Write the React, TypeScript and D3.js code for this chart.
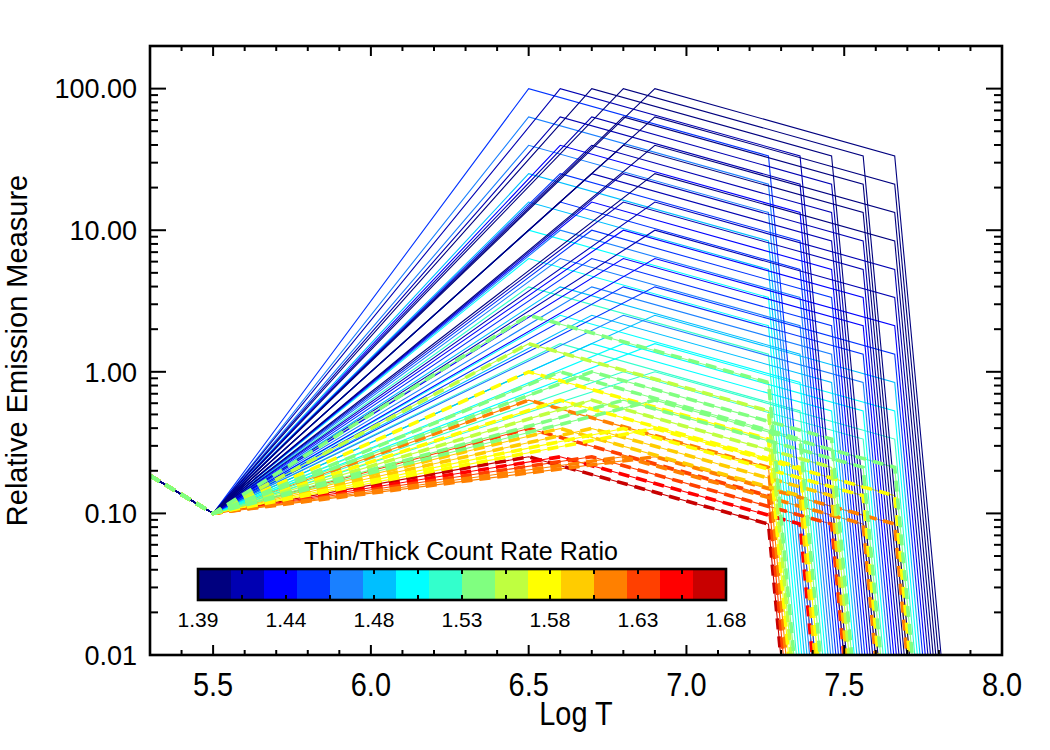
import * as d3 from "d3";

// DEM model grid: peak temperature (columns) x peak emission measure (rows)
const peakT = [6.5, 6.6, 6.7, 6.8, 6.9];
const breakT = [7.26, 7.36, 7.46, 7.56, 7.66];
const peakEM = [100, 63.1, 39.8, 25.1, 15.8, 10, 6.31, 3.98, 2.51, 1.58, 1.0, 0.631, 0.398, 0.251];
const coolT = [5.3, 5.5];
const coolEM = [0.185, 0.1];
const declineDex = 0.475; // fall from peak to break, in dex
const dropSlope = 24; // dex per unit log T above the break
const floorEM = 0.001;

// thin/thick ratio, one array per peak temperature
const ratio65 = [1.455, 1.468, 1.478, 1.488, 1.497, 1.505, 1.515, 1.525, 1.545, 1.565, 1.585, 1.61, 1.64, 1.675];
const ratio66 = [1.415, 1.425, 1.435, 1.445, 1.455, 1.465, 1.475, 1.49, 1.505, 1.53, 1.55, 1.575, 1.6, 1.645];
const ratio67 = [1.405, 1.41, 1.415, 1.425, 1.435, 1.445, 1.455, 1.47, 1.49, 1.51, 1.54, 1.56, 1.59, 1.63];
const ratio68 = [1.398, 1.4, 1.405, 1.41, 1.42, 1.43, 1.44, 1.46, 1.48, 1.5, 1.525, 1.55, 1.585, 1.62];
const ratio69 = [1.392, 1.395, 1.4, 1.405, 1.412, 1.42, 1.43, 1.45, 1.488, 1.505, 1.52, 1.545, 1.58, 1.615];
const ratioGrid = [ratio65, ratio66, ratio67, ratio68, ratio69];
const dashedFrom = 1.535;

const barColors = [
  "#00007f", "#0000b2", "#0000ff", "#0033ff", "#1a80ff", "#00bfff", "#00ffff", "#33ffcc",
  "#80ff80", "#bfff40", "#ffff00", "#ffcc00", "#ff8000", "#ff4000", "#ff0000", "#c80000",
];
const barLabels = ["1.39", "1.44", "1.48", "1.53", "1.58", "1.63", "1.68"];
const ratioDomain: [number, number] = [1.39, 1.68];

const xMajor = [5.5, 6.0, 6.5, 7.0, 7.5, 8.0];
const yMajor = [0.01, 0.1, 1, 10, 100];

const W = 1050, H = 750;
const L = 150, R = 1002, T = 46, B = 655;
const font = "'Liberation Sans', Arial, Helvetica, sans-serif";

export default function App() {
  const x = d3.scaleLinear().domain([5.3, 8.0]).range([L, R]);
  const y = d3.scaleLog().domain([0.01, 200]).range([B, T]);
  const color = d3.scaleQuantize<string>().domain(ratioDomain).range(barColors);
  const line = d3
    .line<[number, number]>()
    .x((d) => x(d[0]))
    .y((d) => y(d[1]));

  const models: { pts: [number, number][]; ratio: number }[] = [];
  peakT.forEach((tp, j) => {
    peakEM.forEach((em, i) => {
      const emB = em * Math.pow(10, -declineDex);
      const tEnd = breakT[j] + (Math.log10(emB) - Math.log10(floorEM)) / dropSlope;
      models.push({
        pts: [
          [coolT[0], coolEM[0]],
          [coolT[1], coolEM[1]],
          [tp, em],
          [breakT[j], emB],
          [tEnd, floorEM],
        ],
        ratio: ratioGrid[j][i],
      });
    });
  });
  const solid = [...models].sort((a, b) => b.ratio - a.ratio);
  const dashed = solid.filter((m) => m.ratio >= dashedFrom);

  const xMinor = d3.range(53, 81).map((v) => v / 10).filter((v) => !xMajor.some((m) => Math.abs(m - v) < 1e-6));
  const yMinor: number[] = [];
  yMajor.forEach((d) => {
    for (let k = 2; k <= 9; k++) if (d * k <= 200) yMinor.push(d * k);
  });

  // colour bar
  const cbL = 198, cbR = 726, cbT = 569, cbB = 600;
  const cb = d3.scaleLinear().domain(ratioDomain).range([cbL, cbR]);
  const blocks = d3.range(barColors.length).map((i) => {
    const [a, b] = color.invertExtent(barColors[i]);
    return { a, b, c: barColors[i] };
  });
  const cbTicks = d3.range(1, 12).map((i) => cbL + ((cbR - cbL) * i) / 12);

  const sx = 0.85;

  return (
    <svg width={W} height={H} viewBox={`0 0 ${W} ${H}`} style={{ display: "block", position: "absolute", left: 0, top: 0 }}>
      <rect width={W} height={H} fill="white" />
      <defs>
        <clipPath id="plot">
          <rect x={L} y={T} width={R - L} height={B - T} />
        </clipPath>
      </defs>
      <g clipPath="url(#plot)" fill="none">
        {solid.map((m, i) => (
          <path key={`s${i}`} d={line(m.pts) ?? ""} stroke={color(m.ratio)} strokeWidth={1.1} />
        ))}
        {dashed.map((m, i) => (
          <path key={`d${i}`} d={line(m.pts) ?? ""} stroke={color(m.ratio)} strokeWidth={3.6} strokeDasharray="11,7" />
        ))}
      </g>

      {/* ticks */}
      <g stroke="black" strokeWidth={2}>
        {xMajor.map((v) => (
          <g key={`xm${v}`}>
            <line x1={x(v)} x2={x(v)} y1={B} y2={B - 10} />
            <line x1={x(v)} x2={x(v)} y1={T} y2={T + 10} />
          </g>
        ))}
        {xMinor.map((v) => (
          <g key={`xn${v}`}>
            <line x1={x(v)} x2={x(v)} y1={B} y2={B - 5} />
            <line x1={x(v)} x2={x(v)} y1={T} y2={T + 5} />
          </g>
        ))}
        {yMajor.map((v) => (
          <g key={`ym${v}`}>
            <line x1={L} x2={L + 16} y1={y(v)} y2={y(v)} />
            <line x1={R} x2={R - 16} y1={y(v)} y2={y(v)} />
          </g>
        ))}
        {yMinor.map((v) => (
          <g key={`yn${v}`}>
            <line x1={L} x2={L + 8} y1={y(v)} y2={y(v)} />
            <line x1={R} x2={R - 8} y1={y(v)} y2={y(v)} />
          </g>
        ))}
      </g>
      <rect x={L} y={T} width={R - L} height={B - T} fill="none" stroke="black" strokeWidth={2.6} />

      {/* tick labels */}
      <g fontFamily={font} fontSize={27} textAnchor="end" fill="black">
        {yMajor.map((v) => (
          <text key={`yl${v}`} x={137} y={y(v)} dy="0.36em">
            {d3.format(".2f")(v)}
          </text>
        ))}
      </g>
      <g transform={`scale(${sx},1)`} fontFamily={font} fontSize={34} textAnchor="middle" fill="black">
        {xMajor.map((v) => (
          <text key={`xl${v}`} x={x(v) / sx} y={696}>
            {d3.format(".1f")(v)}
          </text>
        ))}
        <text x={576 / sx} y={725}>Log T</text>
      </g>
      <text
        transform={`translate(27,${(T + B) / 2}) rotate(-90)`}
        fontFamily={font}
        fontSize={29}
        textAnchor="middle"
        fill="black"
      >
        Relative Emission Measure
      </text>

      {/* colour bar */}
      <text x={461} y={560} fontFamily={font} fontSize={25} textAnchor="middle" fill="black">
        Thin/Thick Count Rate Ratio
      </text>
      {blocks.map((b, i) => (
        <rect key={`cb${i}`} x={cb(b.a)} y={cbT} width={cb(b.b) - cb(b.a) + 0.5} height={cbB - cbT} fill={b.c} />
      ))}
      <g stroke="black" strokeWidth={2}>
        {cbTicks.map((t, i) => (
          <g key={`ct${i}`}>
            <line x1={t} x2={t} y1={cbT} y2={cbT + 5} />
            <line x1={t} x2={t} y1={cbB} y2={cbB - 5} />
          </g>
        ))}
      </g>
      <rect x={cbL} y={cbT} width={cbR - cbL} height={cbB - cbT} fill="none" stroke="black" strokeWidth={2.6} />
      <g fontFamily={font} fontSize={21} textAnchor="middle" fill="black">
        {barLabels.map((s, i) => (
          <text key={`bl${s}`} x={cbL + ((cbR - cbL) * i) / (barLabels.length - 1)} y={627}>
            {s}
          </text>
        ))}
      </g>
    </svg>
  );
}
